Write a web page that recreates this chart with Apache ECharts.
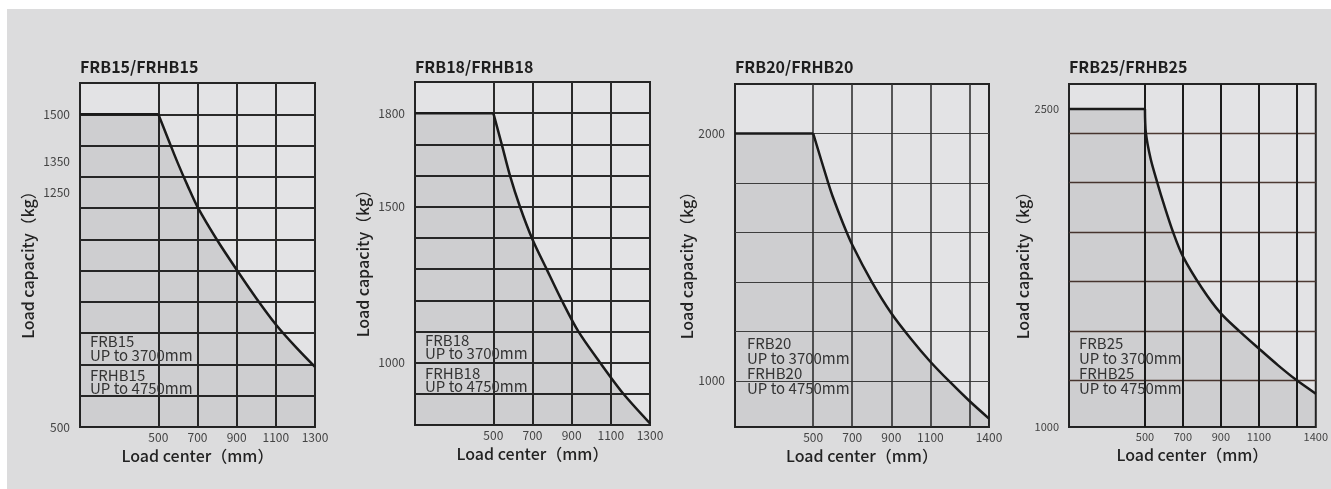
<!DOCTYPE html>
<html>
<head>
<meta charset="utf-8">
<script src="https://cdn.jsdelivr.net/npm/echarts@6/dist/echarts.min.js"></script>
<style>
html,body{margin:0;padding:0;background:#ffffff;}
#c{width:1331px;height:489px;}
</style>
</head>
<body>
<div id="c"></div>
<script>
// ---------- data ----------
const titles = ['FRB15/FRHB15', 'FRB18/FRHB18', 'FRB20/FRHB20', 'FRB25/FRHB25'];
const notesA = [['FRB15', 'UP to 3700mm'], ['FRB18', 'UP to 3700mm'], ['FRB20', 'UP to 3700mm'], ['FRB25', 'UP to 3700mm']];
const notesB = [['FRHB15', 'UP to 4750mm'], ['FRHB18', 'UP to 4750mm'], ['FRHB20', 'UP to 4750mm'], ['FRHB25', 'UP to 4750mm']];
const xName = 'Load center（mm）';
const yName = 'Load capacity（kg）';

// FRB15 / FRHB15  (first two points: flat rated capacity)
const center1   = [100, 500, 550, 600, 650, 700, 800, 900, 1000, 1100, 1200, 1300];
const capacity1 = [1500, 1500, 1421, 1343, 1271, 1204, 1098, 1003, 912, 828, 757, 692];
// FRB18 / FRHB18
const center2   = [100, 500, 543, 585, 636, 700, 772, 849, 934, 1045, 1164, 1300];
const capacity2 = [1800, 1800, 1700, 1600, 1500, 1395, 1300, 1200, 1100, 1000, 900, 805];
// FRB20 / FRHB20
const center3   = [100, 500, 577, 600, 650, 700, 800, 900, 1000, 1100, 1200, 1300, 1400];
const capacity3 = [2000, 2000, 1800, 1745, 1642, 1550, 1400, 1273, 1170, 1077, 995, 918, 847];
// FRB25 / FRHB25
const center4   = [100, 500, 505, 530, 565, 600, 650, 700, 800, 900, 1000, 1100, 1200, 1300, 1400];
const capacity4 = [2500, 2500, 2387, 2265, 2153, 2050, 1915, 1805, 1656, 1536, 1450, 1370, 1292, 1220, 1157];

// axis ranges
const xRange1 = [100, 1300], yRange1 = [500, 1600];
const xRange2 = [100, 1300], yRange2 = [800, 1900];
const xRange3 = [100, 1400], yRange3 = [813, 2200];
const xRange4 = [100, 1400], yRange4 = [1000, 2618];

// tick labels
const xLabels1 = [500, 700, 900, 1100, 1300];
const xLabels2 = [500, 700, 900, 1100, 1300];
const xLabels3 = [500, 700, 900, 1100, 1400];
const xLabels4 = [500, 700, 900, 1100, 1400];
const yLabels1 = [500, 1250, 1350, 1500];
const yLabels2 = [1000, 1500, 1800];
const yLabels3 = [1000, 2000];
const yLabels4 = [1000, 2500];

// grid lines
const xGrid1 = [500, 700, 900, 1100];
const xGrid2 = [500, 700, 900, 1100];
const xGrid3 = [500, 700, 900, 1100, 1300];
const xGrid4 = [500, 700, 900, 1100, 1300];
const yGrid1 = [600, 700, 800, 900, 1000, 1100, 1200, 1300, 1400, 1500];
const yGrid2 = [900, 1000, 1100, 1200, 1300, 1400, 1500, 1600, 1700, 1800];
const yGrid3 = [1000, 1200, 1400, 1600, 1800, 2000];
const yGrid4 = [1220, 1453, 1687, 1920, 2153, 2387];

// ---------- layout / style ----------
const FONT = '"Noto Sans CJK SC", "Noto Sans", sans-serif';
const panels = [
  {left: 80,   top: 83, width: 235, height: 344, cx: center1, cy: capacity1, xr: xRange1, yr: yRange1, xl: xLabels1, yl: yLabels1, xg: xGrid1, yg: yGrid1,
   vLine: {color: '#2a2a2a', width: 2}, hLine: {color: '#2a2a2a', width: 2}, yGap: 44, noteX: 90, notes: [335, 368.3], lh: 13.3, labelSize: 12},
  {left: 415,  top: 82, width: 235, height: 343, cx: center2, cy: capacity2, xr: xRange2, yr: yRange2, xl: xLabels2, yl: yLabels2, xg: xGrid2, yg: yGrid2,
   vLine: {color: '#2a2a2a', width: 2}, hLine: {color: '#2a2a2a', width: 2}, yGap: 44, noteX: 425, notes: [333.3, 366.7], lh: 13.3, labelSize: 12},
  {left: 735,  top: 84, width: 254, height: 343, cx: center3, cy: capacity3, xr: xRange3, yr: yRange3, xl: xLabels3, yl: yLabels3, xg: xGrid3, yg: yGrid3,
   vLine: {color: '#333333', width: 1.6}, hLine: {color: '#444444', width: 1.2}, yGap: 37, noteX: 747, notes: [335.8, 365.8], lh: 15, labelSize: 12},
  {left: 1069, top: 84, width: 254, height: 343, cx: center4, cy: capacity4, xr: xRange4, yr: yRange4, xl: xLabels4, yl: yLabels4, xg: xGrid4, yg: yGrid4,
   vLine: {color: '#1c1c1c', width: 2}, hLine: {color: '#4d3a33', width: 1.4}, yGap: 36, noteX: 1079, notes: [335.8, 365.8], lh: 15, labelSize: 11}
];

const grid = [], xAxis = [], yAxis = [], series = [], title = [], graphic = [];

graphic.push({type: 'rect', shape: {x: 0, y: 0, width: 7, height: 489}, style: {fill: '#ffffff'}, z: 0, silent: true});
graphic.push({type: 'rect', shape: {x: 0, y: 0, width: 1331, height: 9}, style: {fill: '#ffffff'}, z: 0, silent: true});

const plain = v => String(v);

panels.forEach((p, i) => {
  grid.push({left: p.left, top: p.top, width: p.width, height: p.height, show: true,
    backgroundColor: '#e3e3e5', borderColor: '#252525', borderWidth: 2, containLabel: false});
  title.push({text: titles[i], left: p.left, top: 59, padding: 0,
    textStyle: {fontSize: 16, fontWeight: 'bold', color: '#1e1e1e', fontFamily: FONT}});
  xAxis.push({
    gridIndex: i, type: 'value', min: p.xr[0], max: p.xr[1],
    axisLine: {show: false},
    axisTick: {show: false, customValues: p.xg},
    splitLine: {show: true, lineStyle: p.vLine},
    axisLabel: {customValues: p.xl, formatter: plain, margin: 4, fontSize: p.labelSize, color: '#444', fontFamily: FONT, showMinLabel: true, showMaxLabel: true},
    name: xName, nameLocation: 'middle', nameGap: 20,
    nameTextStyle: {fontSize: 16, fontWeight: 500, color: '#222', fontFamily: FONT}
  });
  yAxis.push({
    gridIndex: i, type: 'value', min: p.yr[0], max: p.yr[1],
    axisLine: {show: false},
    axisTick: {show: false, customValues: p.yg},
    splitLine: {show: true, lineStyle: p.hLine},
    axisLabel: {customValues: p.yl, formatter: plain, margin: 10, fontSize: p.labelSize, color: '#444', fontFamily: FONT, showMinLabel: true, showMaxLabel: true},
    name: yName, nameLocation: 'middle', nameGap: p.yGap,
    nameTextStyle: {fontSize: 16, fontWeight: 500, color: '#222', fontFamily: FONT, padding: [0, 12, 0, 0]}
  });
  const pts = p.cx.map((c, k) => [c, p.cy[k]]);
  const common = {
    type: 'line', xAxisIndex: i, yAxisIndex: i,
    showSymbol: false, symbol: 'none', silent: true,
    lineStyle: {color: '#1a1a1a', width: 2.5},
    areaStyle: {color: 'rgba(0,0,0,0.13)', origin: 'start'},
    z: 3
  };
  // flat rated-capacity segment
  series.push(Object.assign({}, common, {data: pts.slice(0, 2), smooth: false}));
  // derating curve
  series.push(Object.assign({}, common, {data: pts.slice(1), smooth: 0.3}));
  graphic.push({type: 'text', x: p.noteX, y: p.notes[0], z: 100, silent: true,
    style: {text: notesA[i].join('\n'), fontSize: 15, fontFamily: FONT, fill: '#333', lineHeight: p.lh}});
  graphic.push({type: 'text', x: p.noteX, y: p.notes[1], z: 100, silent: true,
    style: {text: notesB[i].join('\n'), fontSize: 15, fontFamily: FONT, fill: '#333', lineHeight: p.lh}});
});

const chart = echarts.init(document.getElementById('c'), null, {renderer: 'canvas'});
chart.setOption({
  backgroundColor: '#dcdcdd',
  animation: false,
  title, grid, xAxis, yAxis, series, graphic
});
</script>
</body>
</html>
